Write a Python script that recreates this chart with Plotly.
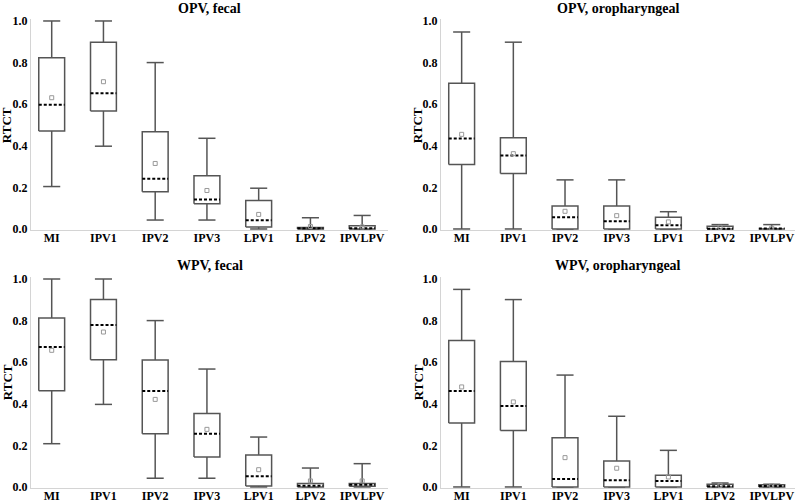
import plotly.graph_objects as go

categories = ["MI", "IPV1", "IPV2", "IPV3", "LPV1", "LPV2", "IPVLPV"]
panel_titles = ["OPV, fecal", "OPV, oropharyngeal", "WPV, fecal", "WPV, oropharyngeal"]
y_ticks = [0.0, 0.2, 0.4, 0.6, 0.8, 1.0]

# OPV, fecal
opv_fecal_lower = [0.204, 0.398, 0.043, 0.043, 0.0, 0.0, 0.0]
opv_fecal_q1 = [0.471, 0.567, 0.179, 0.121, 0.010, 0.0, 0.0]
opv_fecal_median = [0.597, 0.652, 0.241, 0.142, 0.042, 0.003, 0.004]
opv_fecal_q3 = [0.823, 0.898, 0.468, 0.256, 0.137, 0.007, 0.016]
opv_fecal_upper = [1.0, 1.0, 0.800, 0.436, 0.196, 0.054, 0.065]
opv_fecal_mean = [0.631, 0.708, 0.315, 0.185, 0.070, 0.012, 0.010]

# OPV, oropharyngeal
opv_oro_lower = [0.0, 0.0, 0.0, 0.0, 0.0, 0.0, 0.0]
opv_oro_q1 = [0.310, 0.267, 0.0, 0.0, 0.0, 0.0, 0.0]
opv_oro_median = [0.435, 0.353, 0.056, 0.037, 0.018, 0.001, 0.002]
opv_oro_q3 = [0.701, 0.439, 0.110, 0.110, 0.056, 0.013, 0.003]
opv_oro_upper = [0.947, 0.898, 0.236, 0.236, 0.083, 0.021, 0.021]
opv_oro_mean = [0.455, 0.362, 0.085, 0.064, 0.034, 0.008, 0.004]

# WPV, fecal
wpv_fecal_lower = [0.208, 0.397, 0.042, 0.042, 0.0, 0.0, 0.0]
wpv_fecal_q1 = [0.463, 0.612, 0.256, 0.144, 0.005, 0.0, 0.003]
wpv_fecal_median = [0.673, 0.779, 0.462, 0.256, 0.051, 0.006, 0.010]
wpv_fecal_q3 = [0.8125, 0.901, 0.611, 0.353, 0.154, 0.016, 0.016]
wpv_fecal_upper = [1.0, 1.0, 0.800, 0.567, 0.240, 0.091, 0.112]
wpv_fecal_mean = [0.657, 0.745, 0.421, 0.277, 0.083, 0.029, 0.029]

# WPV, oropharyngeal
wpv_oro_lower = [0.0, 0.0, 0.0, 0.0, 0.0, 0.0, 0.0]
wpv_oro_q1 = [0.308, 0.272, 0.0, 0.0, 0.0, 0.0, 0.0]
wpv_oro_median = [0.462, 0.389, 0.038, 0.032, 0.029, 0.003, 0.005]
wpv_oro_q3 = [0.704, 0.603, 0.236, 0.125, 0.056, 0.013, 0.010]
wpv_oro_upper = [0.950, 0.901, 0.538, 0.340, 0.176, 0.019, 0.013]
wpv_oro_mean = [0.481, 0.409, 0.141, 0.090, 0.048, 0.008, 0.006]

panels = [
    (opv_fecal_lower, opv_fecal_q1, opv_fecal_median, opv_fecal_q3, opv_fecal_upper, opv_fecal_mean),
    (opv_oro_lower, opv_oro_q1, opv_oro_median, opv_oro_q3, opv_oro_upper, opv_oro_mean),
    (wpv_fecal_lower, wpv_fecal_q1, wpv_fecal_median, wpv_fecal_q3, wpv_fecal_upper, wpv_fecal_mean),
    (wpv_oro_lower, wpv_oro_q1, wpv_oro_median, wpv_oro_q3, wpv_oro_upper, wpv_oro_mean),
]

FONT = "Times New Roman, Liberation Serif, serif"
BOX_HALF = 0.25
CAP_HALF = 0.165
LINE_COLOR = "#555555"
AXIS_COLOR = "#d4d4d4"

x_domains = [[0.0390, 0.4881], [0.5547, 1.0], [0.0390, 0.4881], [0.5547, 1.0]]
y_domains = [[0.5418, 0.9622], [0.5418, 0.9622], [0.0279, 0.4482], [0.0279, 0.4482]]
x_ranges = [[-0.4, 6.5], [-0.4, 6.45], [-0.4, 6.5], [-0.4, 6.45]]

fig = go.Figure()

for p, (lower, q1, med, q3, upper, mean) in enumerate(panels):
    n = p + 1
    xa = "x" if n == 1 else f"x{n}"
    ya = "y" if n == 1 else f"y{n}"
    xs, ys = [], []
    for i in range(len(categories)):
        xs += [i, i, None, i, i, None, i - CAP_HALF, i + CAP_HALF, None, i - CAP_HALF, i + CAP_HALF, None]
        ys += [lower[i], q1[i], None, q3[i], upper[i], None, lower[i], lower[i], None, upper[i], upper[i], None]
    fig.add_trace(go.Scatter(x=xs, y=ys, mode="lines", line=dict(color=LINE_COLOR, width=1.5),
                             xaxis=xa, yaxis=ya, showlegend=False, hoverinfo="skip"))
    for i in range(len(categories)):
        fig.add_trace(go.Scatter(
            x=[i - BOX_HALF, i + BOX_HALF, i + BOX_HALF, i - BOX_HALF, i - BOX_HALF],
            y=[q1[i], q1[i], q3[i], q3[i], q1[i]],
            mode="lines", fill="toself", fillcolor="white",
            line=dict(color=LINE_COLOR, width=1.5),
            xaxis=xa, yaxis=ya, showlegend=False, hoverinfo="skip"))
    mx, my = [], []
    for i in range(len(categories)):
        mx += [i - BOX_HALF, i + BOX_HALF, None]
        my += [med[i], med[i], None]
    fig.add_trace(go.Scatter(x=mx, y=my, mode="lines", line=dict(color="black", width=2, dash="3px,2px"),
                             xaxis=xa, yaxis=ya, showlegend=False, hoverinfo="skip"))
    fig.add_trace(go.Scatter(x=list(range(len(categories))), y=mean, mode="markers",
                             marker=dict(symbol="square-open", size=4, color="#999999", line=dict(width=1)),
                             xaxis=xa, yaxis=ya, showlegend=False, hoverinfo="skip"))

layout = dict(
    template="none",
    width=795, height=502,
    margin=dict(l=0, r=0, t=0, b=0, autoexpand=False),
    paper_bgcolor="white", plot_bgcolor="white",
    font=dict(family=FONT, color="black"),
    annotations=[],
)

for p in range(4):
    n = p + 1
    xkey = "xaxis" if n == 1 else f"xaxis{n}"
    ykey = "yaxis" if n == 1 else f"yaxis{n}"
    ya = "y" if n == 1 else f"y{n}"
    xa = "x" if n == 1 else f"x{n}"
    layout[xkey] = dict(
        domain=x_domains[p], range=x_ranges[p], anchor=ya, automargin=False,
        tickmode="array", tickvals=list(range(len(categories))), ticktext=categories,
        showline=True, linecolor=AXIS_COLOR, linewidth=1, showgrid=False, zeroline=False,
        ticks="", ticklabelstandoff=-3,
        tickfont=dict(family=FONT, size=12, color="black", weight="bold"),
        layer="below traces",
    )
    layout[ykey] = dict(
        domain=y_domains[p], range=[-0.005, 1.0096], anchor=xa, automargin=False,
        tickmode="array", tickvals=y_ticks, ticktext=[f"{v:.1f}" for v in y_ticks],
        showline=True, linecolor=AXIS_COLOR, linewidth=1, showgrid=False, zeroline=False,
        ticks="", tickfont=dict(family=FONT, size=12, color="black", weight="bold"),
        layer="below traces",
    )
    xc = (x_domains[p][0] + x_domains[p][1]) / 2
    ty = 0.984 if p < 2 else 0.4721
    layout["annotations"].append(dict(
        text=f"<b>{panel_titles[p]}</b>", x=xc, y=ty, xref="paper", yref="paper",
        xanchor="center", yanchor="middle", showarrow=False,
        font=dict(family=FONT, size=14, color="black")))
    rx = 0.0090 if p % 2 == 0 else 0.5260
    ry = 0.751 if p < 2 else 0.239
    layout["annotations"].append(dict(
        text="<b>RTCT</b>", x=rx, y=ry, xref="paper", yref="paper",
        xanchor="center", yanchor="middle", showarrow=False, textangle=-90,
        font=dict(family=FONT, size=13, color="black")))

fig.update_layout(**layout)
fig.write_html("out.html", config={"displayModeBar": False},
               post_script="document.body.style.margin='0px';document.body.style.overflow='hidden';")
